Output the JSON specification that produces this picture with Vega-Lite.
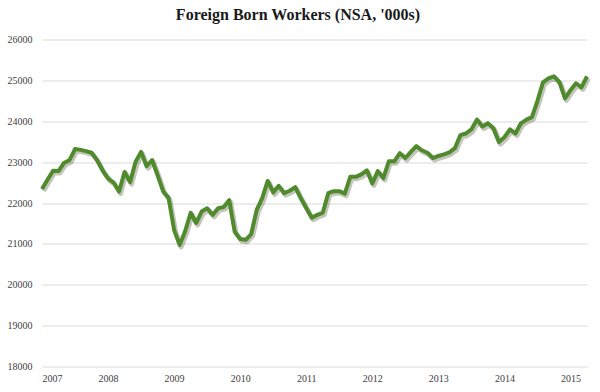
{
  "$schema": "https://vega.github.io/schema/vega-lite/v6.json",
  "width": 550,
  "height": 327,
  "autosize": {"type": "none"},
  "padding": {"left": 40, "top": 39.5, "right": 10, "bottom": 25.5},
  "background": "white",
  "title": {
    "text": "Foreign Born Workers (NSA, '000s)",
    "font": "Liberation Serif",
    "fontSize": 16,
    "fontWeight": "bold",
    "color": "#1a1a1a",
    "anchor": "middle",
    "dx": -17,
    "offset": 12
  },
  "config": {
    "view": {"stroke": null},
    "axis": {"labelFont": "Liberation Serif", "labelFontSize": 10, "labelColor": "#404040"}
  },
  "data": {
    "values": [
      {"i": 0, "v": 22340}, {"i": 1, "v": 22570}, {"i": 2, "v": 22790}, {"i": 3, "v": 22780},
      {"i": 4, "v": 22980}, {"i": 5, "v": 23050}, {"i": 6, "v": 23320}, {"i": 7, "v": 23300},
      {"i": 8, "v": 23270}, {"i": 9, "v": 23230}, {"i": 10, "v": 23050}, {"i": 11, "v": 22800},
      {"i": 12, "v": 22600}, {"i": 13, "v": 22500}, {"i": 14, "v": 22280}, {"i": 15, "v": 22760},
      {"i": 16, "v": 22510}, {"i": 17, "v": 23010}, {"i": 18, "v": 23250}, {"i": 19, "v": 22900},
      {"i": 20, "v": 23050}, {"i": 21, "v": 22680}, {"i": 22, "v": 22290}, {"i": 23, "v": 22120},
      {"i": 24, "v": 21340}, {"i": 25, "v": 20975}, {"i": 26, "v": 21310}, {"i": 27, "v": 21760},
      {"i": 28, "v": 21510}, {"i": 29, "v": 21790}, {"i": 30, "v": 21870}, {"i": 31, "v": 21710},
      {"i": 32, "v": 21870}, {"i": 33, "v": 21900}, {"i": 34, "v": 22070}, {"i": 35, "v": 21300},
      {"i": 36, "v": 21120}, {"i": 37, "v": 21100}, {"i": 38, "v": 21240}, {"i": 39, "v": 21830},
      {"i": 40, "v": 22120}, {"i": 41, "v": 22540}, {"i": 42, "v": 22260}, {"i": 43, "v": 22420},
      {"i": 44, "v": 22240}, {"i": 45, "v": 22300}, {"i": 46, "v": 22390}, {"i": 47, "v": 22120},
      {"i": 48, "v": 21880}, {"i": 49, "v": 21640}, {"i": 50, "v": 21710}, {"i": 51, "v": 21760},
      {"i": 52, "v": 22240}, {"i": 53, "v": 22290}, {"i": 54, "v": 22290}, {"i": 55, "v": 22230},
      {"i": 56, "v": 22640}, {"i": 57, "v": 22640}, {"i": 58, "v": 22700}, {"i": 59, "v": 22800},
      {"i": 60, "v": 22480}, {"i": 61, "v": 22780}, {"i": 62, "v": 22610}, {"i": 63, "v": 23020},
      {"i": 64, "v": 23020}, {"i": 65, "v": 23220}, {"i": 66, "v": 23100}, {"i": 67, "v": 23250},
      {"i": 68, "v": 23390}, {"i": 69, "v": 23290}, {"i": 70, "v": 23230}, {"i": 71, "v": 23100},
      {"i": 72, "v": 23150}, {"i": 73, "v": 23190}, {"i": 74, "v": 23240}, {"i": 75, "v": 23340},
      {"i": 76, "v": 23660}, {"i": 77, "v": 23700}, {"i": 78, "v": 23800}, {"i": 79, "v": 24040},
      {"i": 80, "v": 23870}, {"i": 81, "v": 23950}, {"i": 82, "v": 23830}, {"i": 83, "v": 23490},
      {"i": 84, "v": 23610}, {"i": 85, "v": 23800}, {"i": 86, "v": 23700}, {"i": 87, "v": 23950},
      {"i": 88, "v": 24040}, {"i": 89, "v": 24100}, {"i": 90, "v": 24500}, {"i": 91, "v": 24950},
      {"i": 92, "v": 25050}, {"i": 93, "v": 25100}, {"i": 94, "v": 24950}, {"i": 95, "v": 24560},
      {"i": 96, "v": 24760}, {"i": 97, "v": 24930}, {"i": 98, "v": 24830}, {"i": 99, "v": 25100}
    ]
  },
  "encoding": {
    "x": {
      "field": "i",
      "type": "quantitative",
      "scale": {"domain": [0, 99], "range": [2, 547], "nice": false, "zero": false},
      "axis": {
        "title": null,
        "values": [0, 12, 24, 36, 48, 60, 72, 84, 96],
        "labelExpr": "2007 + datum.value / 12",
        "grid": false,
        "ticks": false,
        "domain": false,
        "labelPadding": 7,
        "labelAngle": 0
      }
    },
    "y": {
      "field": "v",
      "type": "quantitative",
      "scale": {"domain": [18000, 26000], "nice": false, "zero": false},
      "axis": {
        "title": null,
        "values": [18000, 19000, 20000, 21000, 22000, 23000, 24000, 25000, 26000],
        "format": "d",
        "domain": false,
        "ticks": false,
        "grid": true,
        "gridColor": "#d9d9d9",
        "gridWidth": 1,
        "labelPadding": 8
      }
    }
  },
  "layer": [
    {
      "mark": {"type": "line", "color": "#5a5a40", "opacity": 0.35, "strokeWidth": 5, "xOffset": 1.5, "yOffset": 2, "strokeJoin": "round"}
    },
    {
      "mark": {"type": "line", "color": "#4f8a2c", "strokeWidth": 4, "strokeJoin": "round"}
    }
  ]
}
